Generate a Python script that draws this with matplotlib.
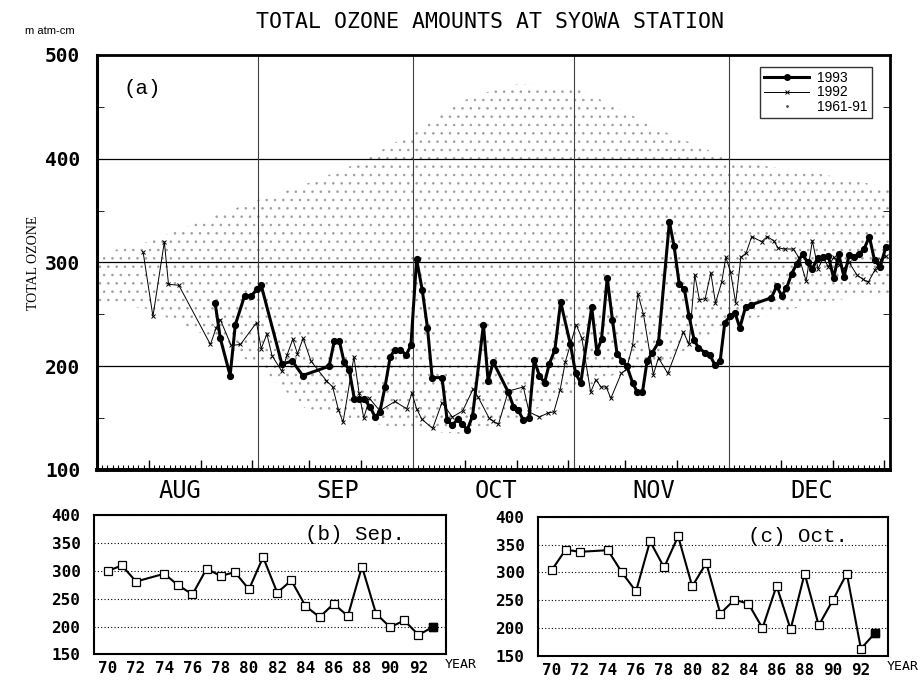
"""
Total ozone amounts at Syowa Station: daily values for 1993 and 1992
over the 1961-91 spread (a), with September (b) and October (c) means.
"""
import matplotlib
matplotlib.use("Agg")
import matplotlib.pyplot as plt
import matplotlib.transforms as mtransforms
from matplotlib.lines import Line2D
from matplotlib.ticker import FixedLocator, MultipleLocator

# ----------------------------------------------------------
# DATA (days counted from 1 Aug = 0, ozone in m atm-cm)
# ----------------------------------------------------------
days_1993 = [22.8, 23.8, 25.7, 26.7, 28.5, 29.8, 30.9, 31.7, 35.7, 37.7,
             39.7, 44.8, 45.8, 46.8, 47.7, 48.7, 49.7, 50.6, 51.6, 52.7,
             53.7, 54.6, 55.6, 56.6, 57.5, 58.5, 59.7, 60.6, 61.7, 62.8,
             63.8, 64.7, 66.6, 67.6, 68.6, 69.6, 70.5, 71.5, 72.5, 74.6,
             75.5, 76.5, 79.4, 80.4, 81.3, 82.3, 83.4, 84.4, 85.4, 86.4,
             87.3, 88.4, 89.5, 91.4, 92.4, 93.4, 95.5, 96.5, 97.4, 98.5,
             99.5, 100.4, 101.4, 102.3, 103.4, 104.3, 105.3, 106.2, 107.2, 108.4,
             110.5, 111.4, 112.4, 113.4, 114.3, 115.3, 116.1, 117.4, 118.3, 119.3,
             120.3, 121.2, 122.2, 123.2, 124.1, 125.2, 126.2, 130.2, 131.2, 132.2,
             133.1, 134.1, 135.1, 136.2, 137.2, 138.1, 139.1, 140.2, 141.2, 142.2,
             143.2, 144.2, 145.2, 146.1, 147.1, 148.1, 149.1, 150.1, 151.2, 152.3]
ozone_1993 = [261, 227, 191, 240, 268, 268, 274, 278, 202, 205,
              191, 200, 224, 224, 204, 196, 168, 168, 168, 161,
              151, 156, 180, 209, 216, 216, 211, 220, 303, 273,
              237, 189, 189, 148, 143, 149, 144, 139, 152, 240,
              186, 204, 175, 161, 158, 148, 150, 206, 191, 184,
              202, 216, 262, 221, 193, 184, 257, 214, 226, 285,
              245, 212, 205, 200, 184, 175, 175, 205, 213, 223,
              339, 316, 279, 274, 248, 225, 218, 213, 211, 201,
              205, 242, 248, 251, 237, 257, 259, 266, 277, 268,
              275, 289, 299, 308, 300, 294, 304, 305, 306, 285,
              308, 286, 307, 305, 308, 313, 325, 302, 296, 315]

days_1992 = [8.9, 10.8, 13.0, 13.8, 15.8, 21.9, 23.0, 23.8, 25.9, 27.7,
             30.8, 31.7, 32.8, 33.8, 35.7, 36.7, 37.8, 38.7, 39.8, 41.3,
             44.3, 45.5, 46.6, 47.5, 49.6, 50.6, 51.5, 52.6, 54.6, 57.5,
             59.8, 60.8, 61.7, 62.7, 64.8, 66.6, 68.6, 70.6, 72.6, 73.6,
             75.7, 76.5, 77.5, 79.4, 82.3, 83.4, 85.4, 87.1, 88.2, 89.4,
             90.4, 92.5, 93.6, 95.3, 96.3, 97.3, 98.3, 99.2, 101.2, 102.2,
             103.4, 104.4, 105.5, 107.4, 108.4, 110.2, 113.2, 114.3, 115.4, 116.3,
             117.4, 118.5, 119.4, 120.6, 121.4, 122.3, 123.3, 124.3, 125.3, 126.4,
             128.3, 129.4, 130.6, 131.5, 132.8, 134.4, 135.6, 136.9, 138.1, 139.2,
             140.2, 141.2, 142.2, 143.2, 144.1, 145.2, 146.7, 147.8, 148.9, 150.2,
             151.3, 152.3]
ozone_1992 = [310, 248, 320, 279, 278, 221, 237, 245, 220, 221,
              242, 217, 231, 210, 195, 211, 226, 212, 227, 205,
              186, 180, 158, 146, 209, 174, 150, 169, 157, 166,
              159, 174, 159, 149, 140, 165, 151, 157, 178, 170,
              150, 147, 144, 176, 180, 156, 151, 155, 156, 177,
              204, 240, 227, 175, 187, 180, 180, 169, 193, 197,
              220, 270, 250, 192, 208, 193, 233, 221, 288, 264,
              265, 290, 261, 281, 305, 291, 261, 305, 309, 325,
              320, 325, 321, 314, 313, 313, 304, 282, 321, 294,
              304, 296, 305, 298, 294, 300, 288, 284, 281, 293,
              302, 306]

# 1961-91 spread, read as a lower / upper envelope of the dot cloud
clim_days = [0, 10, 20, 31, 40, 50, 61, 70, 80, 92, 100, 110, 122, 130, 140, 153]
clim_low = [262, 255, 232, 200, 160, 148, 138, 135, 148, 175, 192, 205, 240, 250, 262, 270]
clim_high = [308, 320, 340, 360, 375, 395, 425, 455, 472, 470, 450, 425, 400, 392, 385, 372]

month_names = ["AUG", "SEP", "OCT", "NOV", "DEC"]
month_starts = [0, 31, 61, 92, 122, 153]
# longer bottom ticks on the 11th, 21st and 31st of each month
long_tick_days = [10, 20, 30, 41, 51, 71, 81, 91, 102, 112, 132, 142, 152]

years = [70, 71, 72, 74, 75, 76, 77, 78, 79, 80, 81, 82,
         83, 84, 85, 86, 87, 88, 89, 90, 91, 92, 93]
sep_mean = [300, 310, 281, 295, 274, 258, 304, 291, 298, 267, 325, 261,
            283, 237, 217, 241, 219, 308, 223, 199, 211, 185, 199]
oct_mean = [304, 341, 337, 340, 300, 266, 356, 309, 365, 275, 317, 226,
            251, 244, 200, 276, 198, 298, 205, 250, 298, 163, 191]

MONO = "DejaVu Sans Mono"
plt.rcParams["font.family"] = ["Liberation Sans", "DejaVu Sans"]
plt.rcParams["hatch.linewidth"] = 0.6

fig = plt.figure(figsize=(9.23, 6.82), dpi=100)

# ----------------------------------------------------------
# (a) DAILY VALUES
# ----------------------------------------------------------
ax = fig.add_axes([0.1051, 0.3109, 0.8592, 0.6085])
ax.fill_between(clim_days, clim_low, clim_high, facecolor="none",
                edgecolor="0.62", hatch="..", linewidth=0, zorder=1)
ax.plot(days_1992, ozone_1992, color="black", lw=0.7, marker="x", ms=3.2,
        mew=0.7, zorder=3)
ax.plot(days_1993, ozone_1993, color="black", lw=2.2, marker="o", ms=4.2,
        zorder=4)

ax.set_xlim(0, 153.1)
ax.set_ylim(100, 500)
for d in month_starts[1:-1]:
    ax.axvline(d, color="0.25", lw=0.8, zorder=2)
ax.set_yticks(range(100, 501, 100))
ax.yaxis.set_minor_locator(MultipleLocator(50))
ax.yaxis.grid(True, color="black", lw=0.9, zorder=2)
ax.xaxis.set_major_locator(FixedLocator(long_tick_days))
ax.xaxis.set_minor_locator(MultipleLocator(1))
ax.tick_params(axis="x", which="major", direction="in", length=7, width=1,
               labelbottom=False)
ax.tick_params(axis="x", which="minor", direction="in", length=3.5, width=0.8)
ax.tick_params(axis="y", which="major", length=0, pad=12)
ax.tick_params(axis="y", which="minor", direction="in", length=5,
               left=True, right=True)
for lab in ax.get_yticklabels():
    lab.set_fontfamily(MONO)
    lab.set_fontweight("bold")
    lab.set_fontsize(14)
for side, w in (("left", 2.2), ("bottom", 2.8), ("top", 2.0), ("right", 2.0)):
    ax.spines[side].set_linewidth(w)

# month names centred under each month
month_trans = mtransforms.blended_transform_factory(ax.transData, ax.transAxes)
for name, start, end in zip(month_names, month_starts[:-1], month_starts[1:]):
    ax.text((start + end) / 2 + 0.5, -0.05, name, transform=month_trans,
            ha="center", va="center", fontsize=17, family=MONO)

ax.text(0.033, 0.92, "(a)", transform=ax.transAxes, ha="left", va="center",
        fontsize=15, family="Liberation Mono")

handles = [
    Line2D([], [], color="black", lw=2.2, marker="o", ms=4),
    Line2D([], [], color="black", lw=0.7, marker="x", ms=3.2, mew=0.7),
    Line2D([], [], color="0.3", lw=0, marker=".", ms=2),
]
leg = ax.legend(handles, ["1993", "1992", "1961-91"], loc="upper right",
                bbox_to_anchor=(0.977, 0.972), fontsize=10, frameon=True,
                fancybox=False, handlelength=3.2, borderpad=0.3,
                labelspacing=0.05, handletextpad=0.6, borderaxespad=0)
leg.get_frame().set_edgecolor("black")
leg.get_frame().set_linewidth(1.0)

fig.text(0.531, 0.968, "TOTAL OZONE AMOUNTS AT SYOWA STATION", ha="center",
         va="center", fontsize=15.5, family=MONO)
fig.text(0.027, 0.955, "m atm-cm", ha="left", va="center", fontsize=8)
fig.text(0.036, 0.615, "TOTAL OZONE", ha="center", va="center", rotation=90,
         fontsize=10, family="Liberation Serif")

# ----------------------------------------------------------
# (b) SEPTEMBER AND (c) OCTOBER MEANS
# ----------------------------------------------------------
panels = [
    ([0.1022, 0.0405, 0.3810, 0.2038], sep_mean, "(b) Sep."),
    ([0.5832, 0.0381, 0.3792, 0.2042], oct_mean, "(c) Oct."),
]
for pos, values, tag in panels:
    bx = fig.add_axes(pos)
    bx.plot(years, values, color="black", lw=1.5, marker="s", ms=5.5,
            mfc="white", mec="black", mew=0.9, zorder=3)
    bx.plot(years[-1:], values[-1:], lw=0, marker="s", ms=5.5, color="black",
            zorder=4)
    bx.set_xlim(69.05, 93.95)
    bx.set_ylim(150, 400)
    bx.set_xticks(range(70, 93, 2))
    bx.set_yticks(range(150, 401, 50))
    bx.yaxis.grid(True, ls=(0, (1, 2)), color="black", lw=0.8)
    bx.tick_params(length=0, labelsize=11.5, pad=5)
    bx.tick_params(axis="y", pad=10)
    for lab in bx.get_xticklabels() + bx.get_yticklabels():
        lab.set_fontfamily(MONO)
        lab.set_fontweight("bold")
    for sp in bx.spines.values():
        sp.set_linewidth(1.5)
    bx.text(0.6, 0.86, tag, transform=bx.transAxes, ha="left", va="center",
            fontsize=15, family="Liberation Mono")
    bx.text(0.995, -0.075, "YEAR", transform=bx.transAxes, ha="left",
            va="center", fontsize=9.5, family=MONO)

fig.savefig("out.png", dpi=100)
